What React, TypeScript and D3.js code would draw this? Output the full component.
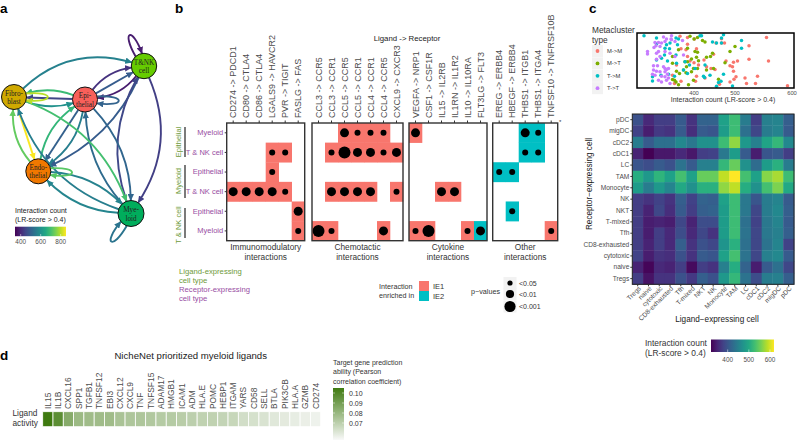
import React, { useEffect, useRef } from 'react';
import * as d3 from 'd3';

const SANS = '"Liberation Sans", Arial, sans-serif';
const SERIF = '"Liberation Serif", "Times New Roman", serif';
const GREY = '#4d4d4d';

// panel a: network
const networkNodes = ['Fibro', 'Epi', 'TNK', 'Endo', 'Mye'];
const networkLabels: Record<string, string[]> = {
  Fibro: ['Fibro-', 'blast'],
  Epi: ['Epi-', 'thelial'],
  TNK: ['T&NK', 'cell'],
  Endo: ['Endo-', 'thelial'],
  Mye: ['Mye-', 'loid'],
};
// from, to, interaction count, bend
const networkEdges: [string, string, number, number][] = [
  ['Fibro', 'TNK', 565, 19],
  ['Epi', 'Fibro', 690, -6],
  ['Fibro', 'Epi', 600, -6],
  ['Epi', 'Fibro', 450, 0],
  ['Epi', 'TNK', 420, 7],
  ['TNK', 'Epi', 385, 7],
  ['Epi', 'TNK', 490, 0],
  ['Epi', 'Endo', 560, 9],
  ['Endo', 'Epi', 680, 9],
  ['Epi', 'Endo', 500, 0],
  ['TNK', 'Endo', 490, 14],
  ['TNK', 'Mye', 440, 20],
  ['Mye', 'TNK', 455, 17],
  ['Epi', 'Mye', 510, 12],
  ['Mye', 'Epi', 520, 11],
  ['Endo', 'Fibro', 730, 8],
  ['Fibro', 'Endo', 850, 0],
  ['Fibro', 'Mye', 700, 19],
  ['Mye', 'Fibro', 560, 20],
  ['Endo', 'Mye', 570, 10],
  ['Mye', 'Endo', 575, 10],
];
// node, interaction count, angle
const networkLoops: [string, number, number][] = [
  ['TNK', 385, -115],
  ['Fibro', 800, 0],
  ['Epi', 505, 2],
  ['Endo', 720, 2],
  ['Mye', 540, 125],
];

// panel b: ligand -> receptor dot matrix
const bRows = ['Myeloid', 'T & NK cell', 'Epithelial', 'T & NK cell ', 'Epithelial ', 'Myeloid '];
const immunoPairs = ['CD274 -> PDCD1', 'CD80 -> CTLA4', 'CD86 -> CTLA4', 'LGALS9 -> HAVCR2', 'PVR -> TIGIT', 'FASLG -> FAS'];
const chemoPairs = ['CCL3 -> CCR5', 'CCL3 -> CCR1', 'CCL5 -> CCR5', 'CCL5 -> CCR1', 'CCL4 -> CCR1', 'CCL4 -> CCR5', 'CXCL9 -> CXCR3'];
const cytokinePairs = ['VEGFA -> NRP1', 'CSF1 -> CSF1R', 'IL15 -> IL2RB', 'IL1RN -> IL1R2', 'IL10 -> IL10RA', 'FLT3LG -> FLT3'];
const otherPairs = ['EREG -> ERBB4', 'HBEGF -> ERBB4', 'THBS1 -> ITGB1', 'THBS1 -> ITGA4', 'TNFSF10 -> TNFRSF10B'];
// row, pair index, significance class (1 <0.05, 2 <0.01, 3 <0.001), enriched in IE1 or IE2
type Hit = [number, number, number, number];
const immunoHits: Hit[] = [
  [1, 3, 1, 1], [1, 4, 1, 1], [2, 3, 1, 1],
  [3, 0, 2, 1], [3, 1, 2, 1], [3, 2, 2, 1], [3, 3, 2, 1], [3, 4, 1, 1],
  [4, 5, 2, 1], [5, 5, 1, 1],
];
const chemoHits: Hit[] = [
  [0, 2, 2, 1], [0, 3, 1, 1], [0, 4, 1, 1], [0, 5, 1, 1],
  [1, 1, 1, 1], [1, 2, 3, 1], [1, 3, 2, 1], [1, 4, 2, 1], [1, 5, 1, 1], [1, 6, 2, 1],
  [3, 1, 2, 1], [3, 2, 2, 1], [3, 3, 2, 1], [3, 4, 2, 1], [3, 6, 1, 1],
  [5, 0, 3, 1], [5, 1, 1, 1], [5, 5, 2, 1],
];
const cytokineHits: Hit[] = [
  [0, 0, 2, 1], [3, 2, 2, 1], [3, 3, 2, 1],
  [5, 0, 1, 1], [5, 1, 3, 1], [5, 4, 1, 1], [5, 5, 2, 2],
];
const otherHits: Hit[] = [
  [0, 2, 2, 2], [0, 3, 1, 2], [1, 2, 1, 2], [1, 3, 1, 2],
  [2, 0, 1, 2], [2, 1, 1, 2], [4, 1, 1, 2], [5, 4, 1, 1],
];
const pClasses = [1, 2, 3];
const pLabels = ['<0.05', '<0.01', '<0.001'];

// panel c: strip of interaction counts, [count, jitter]
const mmPoints = [
  [545, 113], [510, 138], [587, 256], [549, 183], [510, 178], [527, 228], [502, 233], [523, 250], [505, 250],
  [484, 230], [479, 213], [487, 183], [479, 187], [472, 197], [477, 200], [464, 183], [461, 130], [455, 117],
  [444, 130], [455, 130], [384, 150], [401, 118], [372, 110], [387, 113], [387, 133], [374, 147], [392, 183],
  [400, 188], [434, 205], [442, 208], [405, 228], [403, 243], [422, 233], [451, 252], [472, 245], [480, 237],
  [420, 180], [409, 195], [387, 170], [365, 195], [361, 250], [357, 225], [374, 243], [439, 163], [405, 147], [425, 200],
];
const mtPoints = [
  [392, 110], [407, 113], [400, 118], [417, 122], [422, 127], [387, 145], [402, 155], [407, 157], [472, 155],
  [482, 140], [437, 160], [433, 170], [425, 172], [405, 172], [395, 177], [409, 182], [387, 185], [382, 185],
  [357, 170], [357, 190], [379, 210], [385, 200], [399, 205], [407, 205], [395, 215], [384, 218], [371, 220],
  [462, 188], [369, 150], [439, 205], [357, 238], [364, 245], [361, 240], [369, 253], [389, 253], [449, 237],
  [399, 240], [365, 213], [425, 210],
];
const tmPoints = [
  [300, 108], [325, 115], [364, 115], [369, 118], [412, 108], [415, 108], [459, 105], [455, 115], [495, 122],
  [437, 127], [445, 130], [455, 130], [495, 145], [352, 130], [342, 145], [351, 147], [367, 135], [364, 165],
  [341, 165], [335, 175], [325, 180], [347, 183], [382, 185], [379, 210], [391, 195], [402, 205], [459, 222],
  [432, 225], [454, 243], [449, 247], [421, 232], [419, 228], [477, 257], [445, 258], [361, 228], [349, 222],
  [334, 225], [317, 230], [317, 242], [365, 190], [387, 220], [422, 195], [325, 132], [345, 135],
];
const ttPoints = [
  [339, 112], [345, 118], [355, 108], [354, 118], [362, 125], [377, 122], [322, 128], [329, 128], [335, 130],
  [320, 143], [332, 140], [307, 155], [307, 162], [329, 155], [325, 160], [342, 155], [352, 160], [332, 170],
  [325, 178], [319, 197], [327, 197], [339, 200], [342, 205], [349, 205], [319, 210], [325, 213], [332, 215],
  [342, 215], [347, 222], [345, 208], [317, 222], [322, 225], [335, 228], [342, 230], [349, 233], [362, 170],
  [355, 120], [342, 125], [324, 138], [352, 250], [345, 240], [335, 245], [329, 240], [379, 165],
];
const metaTypes = ['M->M', 'M->T', 'T->M', 'T->T'];
const metaColors = ['#F8766D', '#7CAE00', '#00BFC4', '#C77CFF'];
const metaPoints = [mmPoints, mtPoints, tmPoints, ttPoints];
const stripTicks = [400, 500, 600];

// panel c: heatmap
const ligandCells = ['Tregs', 'naive', 'cytotoxic', 'CD8-exhausted', 'Tfh', 'T-mixed', 'NKT', 'NK', 'Monocyte', 'TAM', 'LC', 'cDC1', 'cDC2', 'migDC', 'pDC'];
const receptorCells = ['pDC', 'migDC', 'cDC2', 'cDC1', 'LC', 'TAM', 'Monocyte', 'NK', 'NKT', 'T-mixed', 'Tfh', 'CD8-exhausted', 'cytotoxic', 'naive', 'Tregs'];
const heatValues = [
  [395, 355, 375, 375, 405, 365, 415, 415, 490, 525, 445, 375, 450, 455, 410],
  [380, 345, 370, 365, 405, 360, 405, 400, 485, 525, 430, 385, 445, 455, 405],
  [445, 405, 430, 430, 460, 440, 470, 470, 525, 570, 480, 450, 495, 520, 460],
  [350, 322, 340, 340, 355, 340, 375, 380, 440, 485, 405, 345, 400, 405, 375],
  [400, 390, 405, 395, 435, 405, 450, 450, 520, 550, 470, 425, 485, 510, 445],
  [505, 480, 515, 490, 530, 490, 550, 550, 590, 620, 530, 490, 565, 580, 525],
  [485, 445, 480, 455, 500, 470, 510, 510, 570, 590, 505, 470, 530, 560, 500],
  [375, 365, 380, 365, 410, 380, 415, 410, 490, 525, 440, 400, 445, 455, 405],
  [375, 350, 385, 360, 405, 375, 410, 415, 485, 525, 440, 385, 445, 460, 410],
  [375, 345, 350, 345, 385, 350, 390, 390, 485, 525, 430, 380, 440, 455, 405],
  [375, 345, 375, 355, 390, 355, 385, 365, 485, 525, 435, 385, 440, 450, 410],
  [375, 350, 375, 355, 410, 365, 395, 385, 475, 510, 430, 385, 435, 455, 380],
  [380, 345, 365, 360, 395, 365, 405, 400, 490, 530, 435, 385, 450, 460, 405],
  [350, 325, 355, 350, 375, 330, 375, 365, 450, 505, 415, 345, 405, 430, 385],
  [375, 335, 365, 365, 395, 370, 410, 395, 480, 520, 435, 390, 445, 450, 410],
];
const heatLegendTicks = [400, 500, 600];

// panel d: ligand activity
const nicheLigands = ['IL15', 'IL1B', 'CXCL16', 'SPP1', 'TGFB1', 'TNFSF12', 'EBI3', 'CXCL12', 'CXCL9', 'TNF', 'TNFSF15', 'ADAM17', 'HMGB1', 'ICAM1', 'ADM', 'HLA.E', 'POMC', 'HEBP1', 'ITGAM', 'YARS', 'CD58', 'SELL', 'BTLA', 'PIK3CB', 'HLA.A', 'GZMB', 'CD274'];
const nicheActivity = [0.105, 0.097, 0.085, 0.079, 0.078, 0.078, 0.078, 0.075, 0.074, 0.074, 0.073, 0.072, 0.072, 0.071, 0.07, 0.069, 0.069, 0.068, 0.067, 0.064, 0.063, 0.062, 0.06, 0.059, 0.058, 0.057, 0.056];
const nicheTicks = [0.1, 0.09, 0.08, 0.07];

const App = () => {
  const ref = useRef<SVGSVGElement>(null);

  useEffect(() => {
    const svg = d3.select(ref.current);
    svg.selectAll('*').remove();
    const defs = svg.append('defs');

    const text = (
      parent: any, x: number, y: number, s: string, size: number,
      fill = '#1a1a1a', anchor = 'start', weight = 'normal',
    ) =>
      parent.append('text')
        .attr('x', x).attr('y', y)
        .attr('font-family', SANS).attr('font-size', size)
        .attr('fill', fill).attr('text-anchor', anchor).attr('font-weight', weight)
        .text(s);

    const gradient = (id: string, stops: (t: number) => string, vertical = false) => {
      const g = defs.append('linearGradient').attr('id', id)
        .attr('x1', 0).attr('y1', vertical ? 1 : 0).attr('x2', vertical ? 0 : 1).attr('y2', 0);
      d3.range(0, 1.001, 0.1).forEach((t) => {
        g.append('stop').attr('offset', t).attr('stop-color', stops(t));
      });
    };

    text(svg, 0, 13, 'a', 13.5, '#000', 'start', 'bold');
    text(svg, 175, 13, 'b', 13.5, '#000', 'start', 'bold');
    text(svg, 589, 13, 'c', 13.5, '#000', 'start', 'bold');
    text(svg, 0, 360, 'd', 13.5, '#000', 'start', 'bold');

    // ---- a: network
    const nodePos: Record<string, { x: number; y: number; r: number; fill: string }> = {
      Fibro: { x: 14, y: 97, r: 12.5, fill: '#CFA900' },
      Epi: { x: 85, y: 99.5, r: 12.5, fill: '#F8605A' },
      TNK: { x: 144, y: 66, r: 12.7, fill: '#66CC00' },
      Endo: { x: 38.3, y: 171.3, r: 12.5, fill: '#F07800' },
      Mye: { x: 131, y: 213.5, r: 13, fill: '#00AD5C' },
    };
    const edgeColor = d3.scaleSequential(d3.interpolateViridis).domain([345, 852]);
    const netG = svg.append('g');
    let markerId = 0;
    const arrow = (color: string) => {
      const id = `arrow${markerId++}`;
      defs.append('marker').attr('id', id)
        .attr('markerUnits', 'userSpaceOnUse')
        .attr('markerWidth', 7).attr('markerHeight', 6.5)
        .attr('refX', 6.5).attr('refY', 3.25).attr('orient', 'auto')
        .append('path').attr('d', 'M0,0L7,3.25L0,6.5Z').attr('fill', color);
      return `url(#${id})`;
    };

    networkEdges.forEach(([from, to, count, bend]) => {
      const a = nodePos[from];
      const b = nodePos[to];
      const dx = b.x - a.x;
      const dy = b.y - a.y;
      const len = Math.hypot(dx, dy);
      const cx = (a.x + b.x) / 2 + (dy / len) * bend * 2;
      const cy = (a.y + b.y) / 2 + (-dx / len) * bend * 2;
      const la = Math.hypot(cx - a.x, cy - a.y);
      const lb = Math.hypot(cx - b.x, cy - b.y);
      const p = d3.path();
      p.moveTo(a.x + ((cx - a.x) / la) * a.r, a.y + ((cy - a.y) / la) * a.r);
      p.quadraticCurveTo(cx, cy, b.x + ((cx - b.x) / lb) * b.r, b.y + ((cy - b.y) / lb) * b.r);
      const color = edgeColor(count);
      netG.append('path').attr('d', p.toString()).attr('fill', 'none')
        .attr('stroke', color).attr('stroke-width', 1.9)
        .attr('marker-end', arrow(color));
    });

    networkLoops.forEach(([node, count, angle]) => {
      const n = nodePos[node];
      const a = (angle * Math.PI) / 180;
      const s = 0.28;
      const w = 0.15;
      const L = 29;
      const at = (t: number, d: number) => [n.x + d * Math.cos(t), n.y + d * Math.sin(t)];
      const p0 = at(a - s, n.r);
      const p3 = at(a + s, n.r);
      const c1 = at(a - w, n.r + L);
      const c2 = at(a + w, n.r + L);
      const p = d3.path();
      p.moveTo(p0[0], p0[1]);
      p.bezierCurveTo(c1[0], c1[1], c2[0], c2[1], p3[0], p3[1]);
      const color = edgeColor(count);
      netG.append('path').attr('d', p.toString()).attr('fill', 'none')
        .attr('stroke', color).attr('stroke-width', 1.9)
        .attr('marker-end', arrow(color));
    });

    networkNodes.forEach((key) => {
      const n = nodePos[key];
      netG.append('circle').attr('cx', n.x).attr('cy', n.y).attr('r', n.r)
        .attr('fill', n.fill).attr('stroke', '#111').attr('stroke-width', 1);
      networkLabels[key].forEach((line, i) => {
        netG.append('text').attr('x', n.x).attr('y', n.y - 1.5 + i * 8.6)
          .attr('font-family', SERIF).attr('font-size', 7.2).attr('fill', '#222')
          .attr('text-anchor', 'middle').text(line);
      });
    });

    text(svg, 15, 213, 'Interaction count', 7);
    text(svg, 15, 222, '(LR-score > 0.4)', 7);
    gradient('netLegend', (t) => edgeColor(345 + t * 507));
    svg.append('rect').attr('x', 15).attr('y', 226.7).attr('width', 51).attr('height', 9.5).attr('fill', 'url(#netLegend)');
    const netLegend = d3.scaleLinear().domain([400, 800]).range([20.7, 60.7]);
    [400, 600, 800].forEach((t) => {
      text(svg, netLegend(t), 243.5, String(t), 6.4, GREY, 'middle');
      svg.append('line').attr('x1', netLegend(t)).attr('x2', netLegend(t)).attr('y1', 234).attr('y2', 236.2)
        .attr('stroke', '#fff').attr('stroke-width', 0.5);
    });

    // ---- b: dot matrix
    const panelTop = 123;
    const panelBottom = 240.7;
    const cell = 13;
    const yB = d3.scaleBand().domain(bRows).range([panelTop, panelBottom]);
    const dotR = d3.scaleOrdinal<number, number>().domain(pClasses).range([3, 4.5, 6]);
    const enrichColor = ['#F8766D', '#00BFC4'];

    const drawPanel = (left: number, pairs: string[], hits: Hit[], title: string[]) => {
      const xB = d3.scaleBand().domain(pairs).range([left, left + pairs.length * cell]);
      const g = svg.append('g');
      g.selectAll('rect.tile').data(hits).join('rect').attr('class', 'tile')
        .attr('x', (d) => xB(pairs[d[1]]) as number)
        .attr('y', (d) => yB(bRows[d[0]]) as number)
        .attr('width', xB.bandwidth() + 0.3)
        .attr('height', yB.bandwidth() + 0.3)
        .attr('fill', (d) => enrichColor[d[3] - 1]);
      g.selectAll('circle').data(hits).join('circle')
        .attr('cx', (d) => (xB(pairs[d[1]]) as number) + xB.bandwidth() / 2)
        .attr('cy', (d) => (yB(bRows[d[0]]) as number) + yB.bandwidth() / 2)
        .attr('r', (d) => dotR(d[2]))
        .attr('fill', '#000');
      g.append('rect').attr('x', left).attr('y', panelTop)
        .attr('width', pairs.length * cell).attr('height', panelBottom - panelTop)
        .attr('fill', 'none').attr('stroke', '#333').attr('stroke-width', 1.4);

      const axis = g.append('g').attr('transform', `translate(0,${panelTop})`)
        .call(d3.axisTop(xB).tickSize(2.5).tickPadding(2) as any);
      axis.select('.domain').remove();
      axis.selectAll('line').attr('stroke', '#333');
      axis.selectAll('text')
        .attr('transform', 'rotate(-90)')
        .attr('text-anchor', 'start')
        .attr('x', 5).attr('y', 0).attr('dy', '0.35em')
        .attr('font-family', SANS).attr('font-size', 9).attr('fill', GREY);

      title.forEach((line, i) => {
        text(svg, left + (pairs.length * cell) / 2, 250 + i * 10, line, 8.3, '#333', 'middle');
      });
    };

    drawPanel(226.7, immunoPairs, immunoHits, ['Immunomodulatory', 'interactions']);
    drawPanel(312, chemoPairs, chemoHits, ['Chemotactic', 'interactions']);
    drawPanel(409, cytokinePairs, cytokineHits, ['Cytokine', 'interactions']);
    drawPanel(492.7, otherPairs, otherHits, ['Other', 'interactions']);

    const rowAxis = svg.append('g').attr('transform', 'translate(226.7,0)')
      .call(d3.axisLeft(yB).tickSize(2).tickPadding(1.5).tickFormat((d: any) => d.trim()) as any);
    rowAxis.select('.domain').remove();
    rowAxis.selectAll('line').attr('stroke', '#333');
    rowAxis.selectAll('text').attr('font-family', SANS).attr('font-size', 7.5).attr('fill', '#984EA3');

    text(svg, 407, 41, 'Ligand -> Receptor', 7.8, '#1a1a1a', 'middle');
    text(svg, 559, 124, '*', 6, '#333');

    const groupGreen = '#6E9A3A';
    [
      { label: 'Epithelial', top: 127, bottom: 157, mid: 142 },
      { label: 'Myeloid', top: 165, bottom: 198, mid: 181 },
      { label: 'T & NK cell', top: 208, bottom: 238, mid: 225 },
    ].forEach((g) => {
      svg.append('line').attr('x1', 185).attr('x2', 185).attr('y1', g.top).attr('y2', g.bottom)
        .attr('stroke', '#222').attr('stroke-width', 1.2);
      text(svg, 0, 0, g.label, 7.5, groupGreen, 'middle')
        .attr('transform', `translate(181,${g.mid}) rotate(-90)`);
    });

    text(svg, 179, 274, 'Ligand-expressing', 7.7, groupGreen);
    text(svg, 179, 283, 'cell type', 7.7, groupGreen);
    text(svg, 179, 291.5, 'Receptor-expressing', 7.7, '#984EA3');
    text(svg, 179, 300.5, 'cell type', 7.7, '#984EA3');

    text(svg, 379, 288.5, 'Interaction', 7.2, '#333');
    text(svg, 379, 297.5, 'enriched in', 7.2, '#333');
    ['IE1', 'IE2'].forEach((label, i) => {
      svg.append('rect').attr('x', 419).attr('y', 281 + i * 10).attr('width', 10).attr('height', 10)
        .attr('fill', enrichColor[i]);
      text(svg, 433, 288.5 + i * 10, label, 7.5, '#333');
    });

    text(svg, 471, 294, 'p\u2212values', 7.2, '#333');
    pClasses.forEach((c, i) => {
      const y = [283, 294, 306.5][i];
      svg.append('rect').attr('x', 503.5).attr('y', y - 6).attr('width', 13).attr('height', 12).attr('fill', '#f2f2f2');
      svg.append('circle').attr('cx', 510).attr('cy', y).attr('r', dotR(c) - 0.4).attr('fill', '#000');
      text(svg, 519, y + 2.5, pLabels[i], 7, '#333');
    });

    // ---- c: strip
    const stripX = d3.scaleLinear().domain([286, 600]).range([637, 794]);
    const stripY = d3.scaleLinear().domain([100, 263]).range([33, 88]);
    // the printed tick labels do not sit evenly along the strip
    const stripLabelX = d3.scaleLinear().domain(stripTicks).range([694, 735, 792]);
    const strip = svg.append('g');
    metaPoints.forEach((points, i) => {
      strip.append('g').selectAll('circle').data(points).join('circle')
        .attr('cx', (d) => stripX(d[0]))
        .attr('cy', (d) => stripY(d[1]))
        .attr('r', 1.75)
        .attr('fill', metaColors[i]);
    });
    strip.append('rect').attr('x', 637).attr('y', 33).attr('width', 157).attr('height', 55)
      .attr('fill', 'none').attr('stroke', '#000').attr('stroke-width', 1.5);
    stripTicks.forEach((t) => text(svg, stripLabelX(t), 95, String(t), 5.8, GREY, 'middle'));
    text(svg, 723, 102, 'Interaction count (LR-score > 0.4)', 7, '#333', 'middle');

    text(svg, 592, 33, 'Metacluster', 8.3, '#333');
    text(svg, 592, 43, 'type', 8.3, '#333');
    metaTypes.forEach((label, i) => {
      const y = 51 + i * 12.4;
      svg.append('rect').attr('x', 592).attr('y', y - 6).attr('width', 11).attr('height', 12).attr('fill', '#f2f2f2');
      svg.append('circle').attr('cx', 597.5).attr('cy', y).attr('r', 1.9).attr('fill', metaColors[i]);
      text(svg, 607, y + 2, label, 5.8, '#333');
    });

    // ---- c: heatmap
    const hx = d3.scaleBand().domain(ligandCells).range([632.3, 794]);
    const hy = d3.scaleBand().domain(receptorCells).range([114, 284.3]);
    const heatColor = d3.scaleSequential(d3.interpolateViridis).domain([321, 619]);
    const heat = svg.append('g');
    receptorCells.forEach((rowName, r) => {
      heat.append('g').selectAll('rect').data(heatValues[r]).join('rect')
        .attr('x', (_, c) => hx(ligandCells[c]) as number)
        .attr('y', hy(rowName) as number)
        .attr('width', hx.bandwidth() + 0.4)
        .attr('height', hy.bandwidth() + 0.4)
        .attr('fill', (d) => heatColor(d));
    });
    heat.append('rect').attr('x', 632.3).attr('y', 114).attr('width', 161.7).attr('height', 170.3)
      .attr('fill', 'none').attr('stroke', '#222').attr('stroke-width', 1);

    const hAxisY = svg.append('g').attr('transform', 'translate(632.3,0)')
      .call(d3.axisLeft(hy).tickSize(2).tickPadding(1) as any);
    hAxisY.select('.domain').remove();
    hAxisY.selectAll('line').attr('stroke', '#333');
    hAxisY.selectAll('text').attr('font-family', SANS).attr('font-size', 6.6).attr('fill', GREY);

    const hAxisX = svg.append('g').attr('transform', 'translate(0,284.3)')
      .call(d3.axisBottom(hx).tickSize(2).tickPadding(1) as any);
    hAxisX.select('.domain').remove();
    hAxisX.selectAll('line').attr('stroke', '#333');
    hAxisX.selectAll('text')
      .attr('transform', 'translate(2,3) rotate(-45)')
      .attr('text-anchor', 'end').attr('x', 0).attr('y', 0).attr('dy', '0.35em')
      .attr('font-family', SANS).attr('font-size', 6.6).attr('fill', GREY);

    text(svg, 717, 322, 'Ligand\u2212expressing cell', 8.2, '#1a1a1a', 'middle');
    text(svg, 0, 0, 'Receptor\u2212expressing cell', 8.2, '#1a1a1a', 'middle')
      .attr('transform', 'translate(592,184) rotate(-90)');

    text(svg, 645, 346, 'Interaction count', 8.4, '#333');
    text(svg, 645, 356, '(LR-score > 0.4)', 8.4, '#333');
    gradient('heatLegend', (t) => heatColor(321 + t * 298));
    svg.append('rect').attr('x', 711).attr('y', 339.5).attr('width', 63).attr('height', 12.5).attr('fill', 'url(#heatLegend)');
    const heatLegend = d3.scaleLinear().domain([321, 619]).range([711, 774]);
    heatLegendTicks.forEach((t) => {
      svg.append('line').attr('x1', heatLegend(t)).attr('x2', heatLegend(t)).attr('y1', 349.5).attr('y2', 352)
        .attr('stroke', '#fff').attr('stroke-width', 0.5);
      text(svg, heatLegend(t), 362, String(t), 6.4, GREY, 'middle');
    });

    // ---- d: ligand activity
    const dx = d3.scaleBand().domain(nicheLigands).range([42.7, 320.7]);
    const greens = d3.scaleLinear<string>().domain([0.053, 0.105]).range(['#f9f9f9', '#3f7a10']).clamp(true);
    const dG = svg.append('g');
    dG.selectAll('rect').data(nicheActivity).join('rect')
      .attr('x', (_, i) => dx(nicheLigands[i]) as number)
      .attr('y', 411.7)
      .attr('width', dx.bandwidth())
      .attr('height', 15)
      .attr('fill', (d) => greens(d))
      .attr('stroke', '#fff').attr('stroke-width', 0.8);
    const dAxis = dG.append('g').attr('transform', 'translate(0,409)')
      .call(d3.axisTop(dx).tickSize(0).tickPadding(0) as any);
    dAxis.select('.domain').remove();
    dAxis.selectAll('text')
      .attr('transform', 'rotate(-90)')
      .attr('text-anchor', 'start')
      .attr('x', 0).attr('y', 0).attr('dy', '0.35em')
      .attr('font-family', SANS).attr('font-size', 8.4).attr('fill', GREY);

    text(svg, 190.7, 358.5, 'NicheNet prioritized myeloid ligands', 9.6, '#1a1a1a', 'middle');
    text(svg, 12.5, 416, 'Ligand', 8.3, '#333');
    text(svg, 12.5, 426, 'activity', 8.3, '#333');

    text(svg, 333, 365, 'Target gene prediction', 7, '#333');
    text(svg, 333, 374, 'ability (Pearson', 7, '#333');
    text(svg, 333, 383.5, 'correlation coefficient)', 7, '#333');
    gradient('dLegend', (t) => greens(0.053 + t * 0.052), true);
    svg.append('rect').attr('x', 333).attr('y', 388).attr('width', 11).attr('height', 52).attr('fill', 'url(#dLegend)');
    const dLegend = d3.scaleLinear().domain([0.07, 0.1]).range([423, 393]);
    nicheTicks.forEach((t) => {
      svg.append('line').attr('x1', 333).attr('x2', 335).attr('y1', dLegend(t)).attr('y2', dLegend(t))
        .attr('stroke', '#fff').attr('stroke-width', 0.5);
      svg.append('line').attr('x1', 342).attr('x2', 344).attr('y1', dLegend(t)).attr('y2', dLegend(t))
        .attr('stroke', '#fff').attr('stroke-width', 0.5);
      text(svg, 349, dLegend(t) + 2.5, t.toFixed(2), 7, '#333');
    });
  }, []);

  return (
    <svg
      ref={ref}
      width={799}
      height={443}
      style={{ position: 'absolute', left: 0, top: 0, display: 'block', background: '#fff' }}
    />
  );
};

export default App;
